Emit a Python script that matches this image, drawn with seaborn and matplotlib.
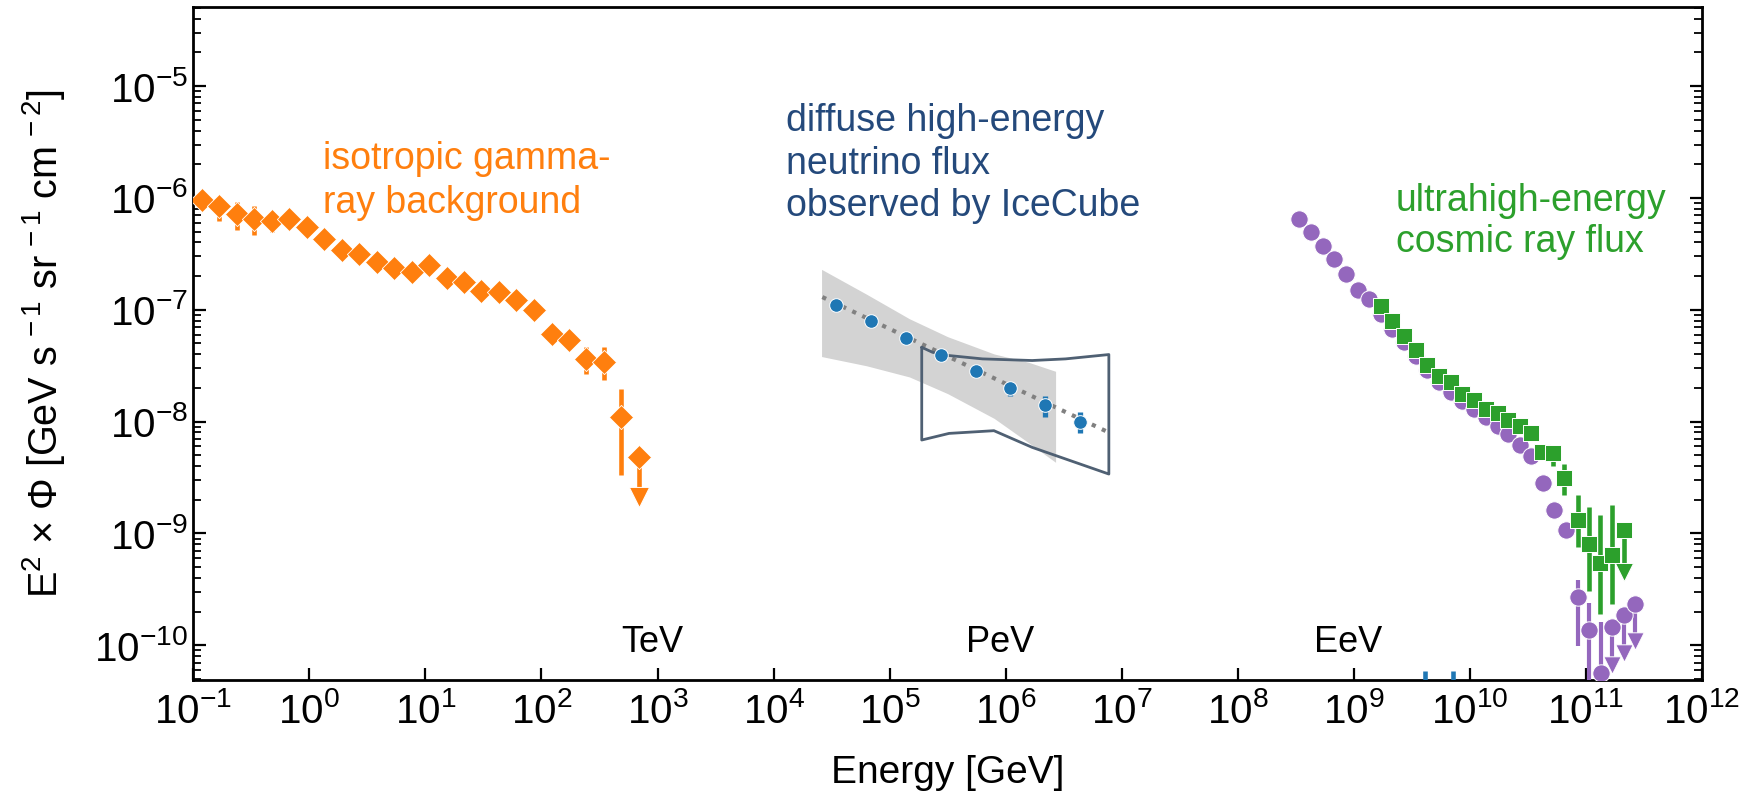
import numpy as np
import pandas as pd
import matplotlib
matplotlib.use("Agg")
import matplotlib.pyplot as plt
import seaborn as sns
from matplotlib.ticker import LogLocator, NullLocator, NullFormatter

# ---------------- data ----------------
# Isotropic gamma-ray background
igrb_energy = [0.119, 0.168, 0.238, 0.336, 0.475, 0.672, 0.951, 1.345, 1.90, 2.69,
               3.80, 5.38, 7.60, 10.8, 15.2, 21.5, 30.4, 43.0, 60.8, 86.0,
               122, 172, 243, 344, 486]
igrb_flux = [9.5e-7, 8.4e-7, 7.2e-7, 6.5e-7, 6.2e-7, 6.5e-7, 5.5e-7, 4.3e-7, 3.44e-7, 3.17e-7,
             2.7e-7, 2.38e-7, 2.2e-7, 2.53e-7, 1.92e-7, 1.77e-7, 1.46e-7, 1.44e-7, 1.23e-7, 9.9e-8,
             6.1e-8, 5.4e-8, 3.63e-8, 3.4e-8, 1.09e-8]
igrb_lo = [9.0e-7, 6.2e-7, 5.13e-7, 4.62e-7, 4.96e-7, 6.0e-7, 5.2e-7, 4.1e-7, 3.3e-7, 3.0e-7,
           2.6e-7, 2.3e-7, 2.1e-7, 2.4e-7, 1.83e-7, 1.68e-7, 1.39e-7, 1.36e-7, 1.16e-7, 9.3e-8,
           5.7e-8, 5.0e-8, 2.64e-8, 2.36e-8, 3.3e-9]
igrb_hi = [1.0e-6, 1.02e-6, 9.2e-7, 8.4e-7, 7.5e-7, 7.0e-7, 5.8e-7, 4.5e-7, 3.6e-7, 3.3e-7,
           2.8e-7, 2.5e-7, 2.3e-7, 2.65e-7, 2.0e-7, 1.86e-7, 1.53e-7, 1.52e-7, 1.3e-7, 1.05e-7,
           6.5e-8, 5.8e-8, 4.63e-8, 4.63e-8, 1.96e-8]
igrb_ul_energy = [688]
igrb_ul_flux = [4.8e-9]
igrb_ul_arrow = [2.1e-9]

# IceCube diffuse neutrino flux
nu_energy = [3.48e4, 6.97e4, 1.38e5, 2.75e5, 5.52e5, 1.09e6, 2.18e6, 4.34e6]
nu_flux = [1.11e-7, 7.9e-8, 5.6e-8, 3.98e-8, 2.82e-8, 2.0e-8, 1.42e-8, 1.0e-8]
nu_lo = [1.06e-7, 7.5e-8, 5.3e-8, 3.8e-8, 2.7e-8, 1.71e-8, 1.1e-8, 7.85e-9]
nu_hi = [1.16e-7, 8.3e-8, 5.9e-8, 4.2e-8, 2.95e-8, 2.1e-8, 1.71e-8, 1.21e-8]
nu_ext_energy = [4.1e9, 7.2e9]
nu_ext_lo = [2.0e-11, 2.0e-11]
nu_ext_hi = [5.9e-11, 5.9e-11]

# power-law fit line
fit_energy = [2.63e4, 7.74e6]
fit_flux = [1.30e-7, 8.0e-9]

# fit uncertainty band (lower / upper edge)
band_energy = [2.59e4, 6.31e4, 1.48e5, 3.16e5, 7.94e5, 1.58e6, 2.69e6]
band_lo = [3.82e-8, 3.16e-8, 2.51e-8, 1.78e-8, 1.07e-8, 6.46e-9, 4.33e-9]
band_hi = [2.30e-7, 1.38e-7, 8.32e-8, 5.75e-8, 4.03e-8, 3.39e-8, 2.82e-8]

# second analysis contour (outline)
cont_energy = [1.89e5, 2.34e5, 3.25e5, 6.30e5, 1.69e6, 3.28e6, 7.74e6,
               7.74e6, 1.69e6, 7.92e5, 3.25e5, 1.89e5, 1.89e5]
cont_flux = [4.62e-8, 4.17e-8, 3.90e-8, 3.64e-8, 3.52e-8, 3.64e-8, 3.98e-8,
             3.40e-9, 5.89e-9, 8.30e-9, 7.85e-9, 6.85e-9, 4.62e-8]

# Ultrahigh-energy cosmic rays, first experiment
uhe1_energy = [3.39e8, 4.27e8, 5.38e8, 6.78e8, 8.53e8, 1.08e9, 1.36e9, 1.71e9, 2.15e9, 2.72e9,
               3.42e9, 4.31e9, 5.43e9, 6.84e9, 8.61e9, 1.09e10, 1.37e10, 1.73e10, 2.14e10, 2.70e10,
               3.37e10, 4.24e10, 5.35e10, 6.73e10, 8.47e10, 1.07e11, 1.35e11]
uhe1_flux = [6.53e-7, 4.96e-7, 3.69e-7, 2.82e-7, 2.1e-7, 1.51e-7, 1.25e-7, 9.2e-8, 6.76e-8, 5.13e-8,
             3.9e-8, 2.92e-8, 2.25e-8, 1.83e-8, 1.54e-8, 1.3e-8, 1.09e-8, 9.2e-9, 7.76e-9, 6.2e-9,
             4.96e-9, 2.8e-9, 1.62e-9, 1.07e-9, 2.71e-10, 1.36e-10, 5.7e-11]
uhe1_lo = [6.4e-7, 4.9e-7, 3.65e-7, 2.79e-7, 2.08e-7, 1.5e-7, 1.24e-7, 9.1e-8, 6.7e-8, 5.08e-8,
           3.86e-8, 2.89e-8, 2.22e-8, 1.81e-8, 1.52e-8, 1.28e-8, 1.07e-8, 9.0e-9, 7.6e-9, 6.0e-9,
           4.8e-9, 2.7e-9, 1.55e-9, 1.0e-9, 9.9e-11, 3.0e-11, 2.0e-11]
uhe1_hi = [6.6e-7, 5.0e-7, 3.73e-7, 2.85e-7, 2.12e-7, 1.52e-7, 1.26e-7, 9.3e-8, 6.8e-8, 5.18e-8,
           3.94e-8, 2.95e-8, 2.28e-8, 1.85e-8, 1.56e-8, 1.32e-8, 1.11e-8, 9.4e-9, 7.9e-9, 6.4e-9,
           5.1e-9, 2.9e-9, 1.7e-9, 1.15e-9, 3.83e-10, 2.41e-10, 1.6e-10]
uhe1_ul_energy = [1.68e11, 2.12e11, 2.67e11]
uhe1_ul_flux = [1.46e-10, 1.86e-10, 2.36e-10]
uhe1_ul_arrow = [6.7e-11, 8.5e-11, 1.1e-10]

# Ultrahigh-energy cosmic rays, second experiment
uhe2_energy = [1.71e9, 2.15e9, 2.72e9, 3.42e9, 4.31e9, 5.43e9, 6.84e9, 8.61e9, 1.09e10, 1.37e10,
               1.73e10, 2.14e10, 2.70e10, 3.37e10, 4.15e10, 5.16e10, 6.50e10, 8.47e10, 1.07e11,
               1.32e11, 1.68e11]
uhe2_flux = [1.09e-7, 8.0e-8, 5.89e-8, 4.33e-8, 3.24e-8, 2.58e-8, 2.25e-8, 1.75e-8, 1.56e-8, 1.3e-8,
             1.19e-8, 1.04e-8, 9.2e-9, 7.85e-9, 5.4e-9, 5.25e-9, 3.13e-9, 1.32e-9, 8.1e-10,
             5.39e-10, 6.44e-10]
uhe2_lo = [1.06e-7, 7.8e-8, 5.75e-8, 4.22e-8, 3.15e-8, 2.5e-8, 2.18e-8, 1.69e-8, 1.5e-8, 1.25e-8,
           1.14e-8, 9.9e-9, 8.7e-9, 7.4e-9, 5.0e-9, 4.04e-9, 2.22e-9, 7.6e-10, 3.03e-10,
           1.92e-10, 2.36e-10]
uhe2_hi = [1.12e-7, 8.2e-8, 6.03e-8, 4.44e-8, 3.33e-8, 2.66e-8, 2.32e-8, 1.81e-8, 1.62e-8, 1.35e-8,
           1.24e-8, 1.09e-8, 9.7e-9, 8.3e-9, 5.8e-9, 6.1e-9, 4.2e-9, 2.22e-9, 1.73e-9,
           1.46e-9, 1.79e-9]
uhe2_ul_energy = [2.12e11]
uhe2_ul_flux = [1.07e-9]
uhe2_ul_arrow = [4.5e-10]

x_ticks = [10.0 ** k for k in range(-1, 13)]

# ---------------- style ----------------
sns.set_theme(style="ticks")
plt.rcParams["font.family"] = ["Liberation Sans", "DejaVu Sans"]
plt.rcParams["mathtext.fontset"] = "custom"
plt.rcParams["mathtext.rm"] = "Liberation Sans"
plt.rcParams["mathtext.it"] = "Liberation Sans:italic"
plt.rcParams["mathtext.bf"] = "Liberation Sans:bold"
plt.rcParams["mathtext.default"] = "regular"

C_ORANGE = "#ff7f0e"
C_BLUE = "#1f77b4"
C_GREEN = "#2ca02c"
C_PURPLE = "#9467bd"
C_NAVY = "#24497b"
C_SLATE = "#4f6073"

FS = 27
FS_TICK = 29
ELW = 3.3

fig = plt.figure(figsize=(17.48, 7.95), dpi=100)
ax = fig.add_axes([0.1106, 0.1447, 0.8631, 0.8465])
ax.set_xscale("log")
ax.set_yscale("log")


def scatter(energy, flux, marker, size, color, z, ew=0.7):
    df = pd.DataFrame({"energy": energy, "flux": flux})
    sns.scatterplot(data=df, x="energy", y="flux", marker=marker, s=size ** 2,
                    color=color, edgecolor="white", linewidth=ew, zorder=z,
                    legend=False, ax=ax)


def bars(energy, lo, hi, color, z, lw=ELW):
    ax.vlines(energy, lo, hi, colors=color, linewidth=lw, zorder=z)


# neutrino band, contour and fit
ax.fill_between(band_energy, band_lo, band_hi, color="#d3d3d3", linewidth=0, zorder=1)
fit_df = pd.DataFrame({"energy": fit_energy, "flux": fit_flux})
sns.lineplot(data=fit_df, x="energy", y="flux", color="#808080", linewidth=3.0,
             linestyle=":", zorder=2, ax=ax)
ax.plot(cont_energy, cont_flux, color=C_SLATE, linewidth=2.0, zorder=3)
bars(nu_energy, nu_lo, nu_hi, C_BLUE, 4, lw=3.8)
bars(nu_ext_energy, nu_ext_lo, nu_ext_hi, C_BLUE, 4)
scatter(nu_energy, nu_flux, "o", 9.8, C_BLUE, 5)

# gamma-ray background
bars(igrb_energy, igrb_lo, igrb_hi, C_ORANGE, 3)
scatter(igrb_energy, igrb_flux, "D", 12.3, C_ORANGE, 4, ew=0.6)
bars(igrb_ul_energy, igrb_ul_arrow, igrb_ul_flux, C_ORANGE, 3)
scatter(igrb_ul_energy, igrb_ul_flux, "D", 12.3, C_ORANGE, 4, ew=0.6)
scatter(igrb_ul_energy, igrb_ul_arrow, "v", 14.5, C_ORANGE, 4)

# cosmic rays
bars(uhe1_energy, uhe1_lo, uhe1_hi, C_PURPLE, 3, lw=3.0)
scatter(uhe1_energy, uhe1_flux, "o", 12.5, C_PURPLE, 4)
bars(uhe1_ul_energy, uhe1_ul_arrow, uhe1_ul_flux, C_PURPLE, 3, lw=3.0)
scatter(uhe1_ul_energy, uhe1_ul_flux, "o", 12.5, C_PURPLE, 4)
scatter(uhe1_ul_energy, uhe1_ul_arrow, "v", 12.5, C_PURPLE, 4)

bars(uhe2_energy, uhe2_lo, uhe2_hi, C_GREEN, 5)
scatter(uhe2_energy, uhe2_flux, "s", 11.2, C_GREEN, 6)
bars(uhe2_ul_energy, uhe2_ul_arrow, uhe2_ul_flux, C_GREEN, 5)
scatter(uhe2_ul_energy, uhe2_ul_flux, "s", 11.2, C_GREEN, 6)
scatter(uhe2_ul_energy, uhe2_ul_arrow, "v", 13, C_GREEN, 6)

# ---------------- axes ----------------
ax.set_xlim(0.1, 1e12)
ax.set_ylim(4.9e-11, 5.1e-5)
ax.set_xticks(x_ticks)
ax.xaxis.set_minor_locator(NullLocator())
ax.yaxis.set_major_locator(LogLocator(base=10, numticks=30))
ax.yaxis.set_minor_locator(LogLocator(base=10, subs=np.arange(2, 10), numticks=30))
ax.yaxis.set_minor_formatter(NullFormatter())

ax.tick_params(axis="x", which="major", direction="in", length=9, width=1.6,
               bottom=True, top=False, labelsize=FS_TICK, pad=9, colors="black")
ax.tick_params(axis="y", which="major", direction="in", length=9, width=1.6,
               left=True, right=True, labelsize=FS_TICK, pad=4, colors="black")
ax.tick_params(axis="y", which="minor", direction="in", length=5.5, width=1.3,
               left=True, right=True, colors="black")
for side in ["left", "right", "top", "bottom"]:
    ax.spines[side].set_visible(True)
    ax.spines[side].set_color("black")
    ax.spines[side].set_linewidth(2.0)

ax.set_xlabel("Energy [GeV]", fontsize=28, color="black")
ax.xaxis.set_label_coords(0.5, -0.112)
ax.set_ylabel(r"E$^{2}$ × Φ [GeV s$^{\,-1}$ sr$^{\,-1}$ cm$^{\,-2}$]",
              fontsize=28.5, color="black")
ax.yaxis.set_label_coords(-0.084, 0.5)

# ---------------- annotations ----------------
ax.text(1.31, 3.2e-6, "isotropic gamma-\nray background", color=C_ORANGE,
        fontsize=FS, ha="left", va="top", linespacing=1.27, zorder=7)
ax.text(1.29e4, 7.0e-6, "diffuse high-energy\nneutrino flux\nobserved by IceCube",
        color=C_NAVY, fontsize=FS, ha="left", va="top", linespacing=1.22, zorder=7)
ax.text(2.29e9, 1.35e-6, "ultrahigh-energy\ncosmic ray flux", color=C_GREEN,
        fontsize=FS, ha="left", va="top", linespacing=1.15, zorder=7)
for lab, xe in [("TeV", 9e2), ("PeV", 9e5), ("EeV", 9e8)]:
    ax.text(xe, 1.05e-10, lab, color="black", fontsize=FS - 1, ha="center",
            va="center", zorder=7)

fig.savefig("out.png", dpi=100)
